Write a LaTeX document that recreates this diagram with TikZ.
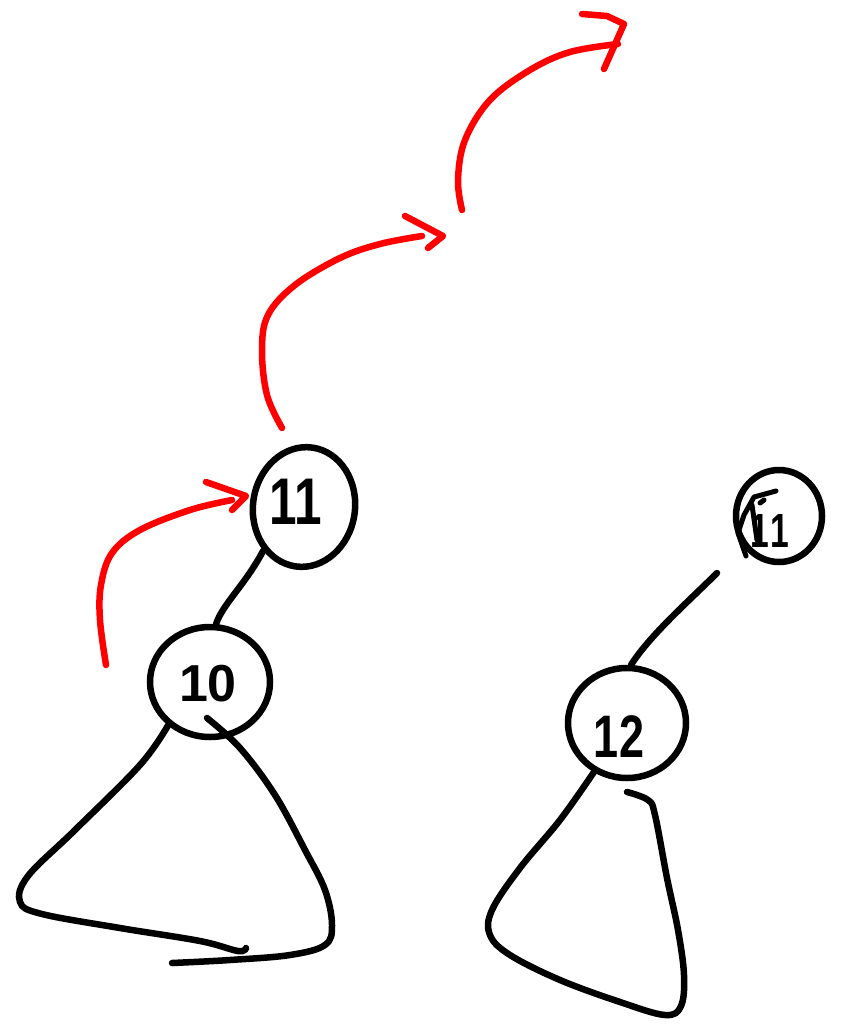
\documentclass[tikz,border=0pt]{standalone}
\usepackage{fontspec}
\setmainfont{Liberation Sans}
\usetikzlibrary{shapes.geometric}
\begin{document}
\begin{tikzpicture}[x=1pt,y=-1pt,
  ink/.style={line width=6.5pt,line cap=round,line join=round,black},
  redink/.style={line width=6.5pt,line cap=round,line join=round,red},
  bubble/.style={ellipse,draw,line width=6.5pt,inner sep=0pt},
  digits/.style={font=\bfseries\fontsize{#1}{#1}\selectfont,inner sep=0pt}
]
\useasboundingbox (0,0) rectangle (850,1025);

% nodes
\node[bubble,minimum width=102pt,minimum height=120pt,rotate=-8] (n11) at (304,507) {};
\node[digits=66] (t11) at (296,502) {\scalebox{0.75}[1]{1\hspace{-3pt}1}};
\node[bubble,minimum width=120pt,minimum height=110pt] (n10) at (210,682) {};
\node[digits=52] (t10) at (208,684) {10};
\node[bubble,minimum width=118pt,minimum height=110pt] (n12) at (627,723) {};
\node[digits=60] (t12) at (619,737) {\scalebox{0.75}[1]{12}};
\node[bubble,minimum width=86pt,minimum height=92pt] (x11) at (779,516) {};
\node[digits=48] (tx11) at (770,531) {\scalebox{0.7}[1]{1\hspace{2pt}1}};

% crossing-out scribble
\draw[ink,line width=5pt] (776,491) -- (754,497) -- (744,515) -- (738,533) -- (746,556)
  (752,505) -- (757,540) (760,503) -- (764,500);

% edges
\coordinate (c1) at (717,573);
\draw[ink] (n11.235) .. controls (245,585) and (222,605) .. (n10.84);
\draw[ink] (c1) .. controls (690,600) and (650,635) .. (n12.86);

% subtree under 10
\draw[ink] plot[smooth,tension=0.6] coordinates {(n10.226) (140,765) (75,830) (28,876) (20,902) (42,914) (120,928) (200,941) (238,951) (246,948)};
\draw[ink] plot[smooth,tension=0.6] coordinates {(207,718) (240,748) (275,795) (305,850) (325,890) (332,925) (325,945) (290,955) (230,960) (172,963)};

% subtree under 12
\draw[ink] plot[smooth,tension=0.6] coordinates {(n12.236) (560,820) (520,868) (492,910) (490,935) (510,955) (560,980) (620,1002) (665,1015) (681,1006) (684,975) (678,930) (667,878) (655,815) (648,800) (627,792)};

% red arrows
\draw[redink] plot[smooth,tension=0.6] coordinates {(106,665) (100,620) (101,585) (112,553) (140,530) (190,510) (232,500)};
\draw[redink] (206,482) -- (246,496) -- (232,510);

\draw[redink] plot[smooth,tension=0.6] coordinates {(282,428) (267,395) (262,350) (268,315) (295,285) (340,258) (380,244) (422,236)};
\draw[redink] (405,216) -- (443,236) -- (428,248);

\draw[redink] plot[smooth,tension=0.6] coordinates {(462,210) (458,180) (465,140) (490,100) (530,70) (570,52) (618,44)};
\draw[redink] (582,14) -- (607,16) -- (624,24) -- (604,69);
\end{tikzpicture}
\end{document}
